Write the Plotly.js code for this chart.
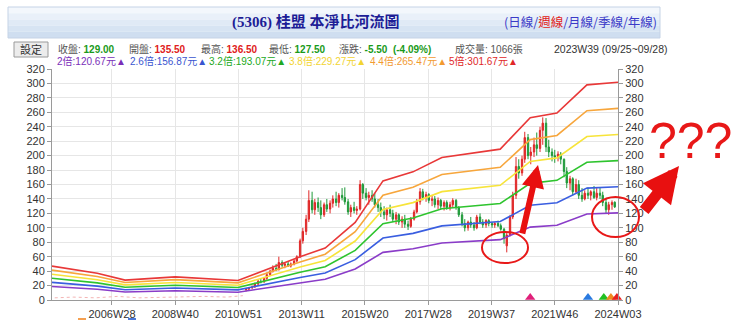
<!DOCTYPE html>
<html><head><meta charset="utf-8">
<script src="https://cdn.plot.ly/plotly-3.0.1.min.js"></script>
<style>html,body{margin:0;padding:0;background:#fff;}#chart{width:740px;height:321px;}</style>
</head><body><div id="chart"></div>
<script>
// ---------- data ----------
const tickWeeks = [110, 226, 342, 458, 574, 690, 806, 922, 1038];
const tickLabels = ["2006W28","2008W40","2010W51","2013W11","2015W20","2017W28","2019W37","2021W46","2024W03"];

// book value per share (read from the 2x / 5x bands), at week-index nodes
const bvWeeks   = [0, 83, 134, 226, 341, 400, 455, 501, 556, 607, 662, 715, 822, 877, 926, 981, 1038];
const bookValue = [9.4, 7.4, 5.5, 6.4, 5.4, 8.9, 12.0, 14.4, 21.5, 33.0, 35.5, 39.5, 41.8, 50.5, 51.8, 59.6, 60.33];
const multiples = [2, 2.6, 3.2, 3.8, 4.4, 5];
const bandNames = ["2倍", "2.6倍", "3.2倍", "3.8倍", "4.4倍", "5倍"];
const bandColors = ["#8a3cc8", "#3a5ee0", "#2ec42e", "#f7e43a", "#f7a63c", "#e83838"];

// weekly candles (sampled)
const weeks = [356,361,367,372,378,383,389,394,400,405,
  411,416,422,427,433,438,444,449,455,460,
  466,471,477,482,488,493,499,504,510,515,
  521,526,532,537,543,548,554,559,565,570,
  576,581,587,592,598,603,609,614,620,625,
  631,636,642,647,653,658,664,669,675,680,
  686,691,697,702,708,713,719,724,730,735,
  741,746,752,757,763,768,774,779,785,790,
  796,801,807,812,818,823,829,834,840,845,
  851,856,862,867,873,878,884,889,895,900,
  906,911,917,922,928,933,939,944,950,955,
  961,966,972,977,983,988,994,999,1005,1010,
  1016,1021,1027,1032];
const open = [14,15,17,18,22,26,25,30,35,40,
  44,42,52,48,50,47,50,54,60,82,
  95,112,138,125,135,128,118,132,126,134,
  140,135,145,142,136,122,128,124,126,160,
  148,142,145,140,132,128,122,118,125,120,
  112,118,108,112,105,102,112,122,136,150,
  142,146,138,140,132,138,130,135,128,132,
  138,128,118,106,100,108,104,100,115,108,
  104,110,106,104,106,103,98,75,90,115,
  145,185,176,195,225,200,205,215,210,235,
  245,212,205,200,198,202,195,178,162,168,
  150,160,145,140,148,145,150,142,148,145,
  135,125,132,135.5];
const high = [16,18,20,24,28,30,32,38,42,48,
  50,60,55,52,54,52,56,62,85,100,
  118,152,150,140,142,138,135,140,138,145,
  150,148,155,156,140,132,136,130,166,162,
  155,150,152,148,140,135,130,128,132,125,
  122,120,116,118,110,115,125,140,155,154,
  150,148,145,144,142,140,138,138,136,141,
  140,130,122,112,110,115,108,118,120,112,
  112,112,108,108,110,106,100,93,118,150,
  198,195,200,233,230,212,225,232,240,253,
  252,222,210,208,206,205,196,184,172,170,
  168,166,155,152,156,152,158,155,156,150,
  140,136,138,136.5];
const low = [12,14,15,17,20,23,24,28,33,38,
  40,41,45,44,46,45,48,52,58,78,
  90,108,120,118,122,112,115,122,120,128,
  130,128,138,132,118,115,120,118,124,140,
  138,132,136,128,122,115,112,110,115,108,
  105,104,100,100,97,100,110,120,132,138,
  136,134,130,128,126,126,124,125,124,128,
  125,115,102,95,96,100,96,98,105,100,
  100,102,100,100,101,96,78,66,88,112,
  140,168,172,190,195,188,198,200,205,215,
  205,198,192,190,192,188,170,155,152,145,
  148,140,136,138,140,138,140,138,140,130,
  120,118,125,127.5];
const close = [15,17,18,22,26,25,30,35,40,44,
  42,52,48,50,47,50,54,60,82,95,
  112,138,125,135,128,118,132,126,134,140,
  135,145,142,136,122,128,124,126,160,148,
  142,145,140,132,128,122,118,125,120,112,
  118,108,112,105,102,112,122,136,150,142,
  146,138,140,132,138,130,135,128,132,138,
  128,118,106,100,108,104,100,115,108,104,
  110,106,104,106,103,98,85,90,115,145,
  185,176,195,225,200,205,215,210,235,245,
  212,205,200,198,202,195,178,162,168,150,
  160,145,140,148,145,150,142,148,145,135,
  125,132,135,129];

// faint line near zero before listing
const earlyWeeks = [5, 40, 80, 120, 160, 200, 240, 280, 320, 350];
const earlyVals  = [3, 4, 3, 5, 3, 4, 4, 5, 4, 6];

// signal triangles along the bottom
const signalWeeks  = [877, 983, 1012, 1025, 1036];
const signalVals   = [3.5, 3.5, 3.5, 3.5, 3.5];
const signalColors = ["#e0207a", "#2a7ae0", "#22c022", "#f08a20", "#e82020"];

// ---------- geometry helpers (pixels -> paper) ----------
const L = 52, R = 618, T = 69, B = 300;
const px = x => (x - L) / (R - L);
const py = y => (B - y) / (B - T);

const traces = [];
multiples.forEach((m, i) => {
  traces.push({
    type: 'scatter', mode: 'lines', x: bvWeeks,
    y: bookValue.map(v => v * m), name: bandNames[i],
    line: {color: bandColors[i], width: 1.6}, hoverinfo: 'skip'
  });
});
traces.push({
  type: 'scatter', mode: 'lines', x: earlyWeeks, y: earlyVals,
  line: {color: '#f4b4b4', width: 1, dash: 'dot'}, hoverinfo: 'skip'
});
traces.push({
  type: 'candlestick', x: weeks, open: open, high: high, low: low, close: close,
  increasing: {line: {color: '#e02828', width: 1}, fillcolor: '#e02828'},
  decreasing: {line: {color: '#1f9a3a', width: 1}, fillcolor: '#1f9a3a'},
  whiskerwidth: 0, hoverinfo: 'skip'
});
traces.push({
  type: 'scatter', mode: 'markers', x: signalWeeks, y: signalVals,
  marker: {symbol: 'triangle-up', size: 9, color: signalColors}, cliponaxis: false, hoverinfo: 'skip'
});
traces.push({type: 'scatter', x: [0], y: [0], yaxis: 'y2', mode: 'markers', marker: {opacity: 0}, hoverinfo: 'skip'});

const FONT = 'Liberation Sans, Arial, Noto Sans CJK TC, sans-serif';
const CJK = 'Noto Sans CJK TC, Liberation Sans, sans-serif';

const shapes = [];
// header gradient bar
const gradCols = ['#f3f7fc', '#e9f0f9', '#e0eaf6', '#d7e4f3', '#cfdef0'];
const hTop = 7, hBot = 38;
gradCols.forEach((c, i) => {
  const y0 = hTop + (hBot - hTop) * i / gradCols.length;
  const y1 = hTop + (hBot - hTop) * (i + 1) / gradCols.length;
  shapes.push({type: 'rect', xref: 'paper', yref: 'paper', x0: px(8), x1: px(660), y0: py(y1), y1: py(y0),
    fillcolor: c, line: {width: 0}, layer: 'below'});
});
shapes.push({type: 'rect', xref: 'paper', yref: 'paper', x0: px(8), x1: px(660), y0: py(hBot), y1: py(hTop),
  line: {color: '#c5d3e6', width: 1}, fillcolor: 'rgba(0,0,0,0)'});
// 設定 button
shapes.push({type: 'rect', xref: 'paper', yref: 'paper', x0: px(14), x1: px(48), y0: py(57), y1: py(42),
  fillcolor: '#ececec', line: {color: '#9a9a9a', width: 1}});
// red ellipses
shapes.push({type: 'circle', xref: 'paper', yref: 'paper', x0: px(482), x1: px(528), y0: py(263), y1: py(232),
  line: {color: '#e81818', width: 2}});
shapes.push({type: 'circle', xref: 'paper', yref: 'paper', x0: px(592), x1: px(639), y0: py(237), y1: py(197),
  line: {color: '#e81818', width: 2}});
// cut-off legend swatches at the bottom
shapes.push({type: 'line', xref: 'paper', yref: 'paper', x0: px(78), x1: px(86), y0: py(319), y1: py(319),
  line: {color: '#f5a050', width: 2}});
shapes.push({type: 'line', xref: 'paper', yref: 'paper', x0: px(128), x1: px(136), y0: py(319), y1: py(319),
  line: {color: '#4a78d8', width: 2}});

const ann = [];
function txt(x, y, text, size, color, family, anchor) {
  ann.push({xref: 'paper', yref: 'paper', x: px(x), y: py(y), text: text, showarrow: false,
    xanchor: anchor || 'left', yanchor: 'middle', font: {size: size, color: color, family: family || FONT}});
}
// title
txt(230, 22, '<b>(5306) 桂盟 本淨比河流圖</b>', 15, '#1d1d96', 'Liberation Serif, Noto Sans CJK TC, serif', 'left');
txt(502, 22, '(日線/<span style="color:#e02020">週線</span>/月線/季線/年線)', 12.5, '#3a3ac8', CJK);
// row 2
txt(31, 49.5, '設定', 11, '#333', CJK, 'center');
const lab = '#555';
const R2 = 10;
txt(56, 49, '收盤: <span style="color:#1a9a1a"><b>129.00</b></span>', R2, lab);
txt(127, 49, '開盤: <span style="color:#e02020"><b>135.50</b></span>', R2, lab);
txt(199, 49, '最高: <span style="color:#e02020"><b>136.50</b></span>', R2, lab);
txt(267, 49, '最低: <span style="color:#1a9a1a"><b>127.50</b></span>', R2, lab);
txt(337, 49, '漲跌: <span style="color:#1a9a1a"><b>-5.50  (-4.09%)</b></span>', R2, lab);
txt(453, 49, '成交量: 1066張', R2, lab);
txt(552, 49, '2023W39 (09/25~09/28)', 10.5, '#333');
// row 3 (band values)
const bandStarts = [55, 128, 207, 287, 368, 447];
const bandText = ['2倍:120.67元▲', '2.6倍:156.87元▲', '3.2倍:193.07元▲', '3.8倍:229.27元▲', '4.4倍:265.47元▲', '5倍:301.67元▲'];
const bandTextCols = ['#7a30b8', '#3a55d0', '#22a822', '#f2d432', '#f29a30', '#e02828'];
bandText.forEach((t, i) => txt(bandStarts[i], 61, t, 10, bandTextCols[i]));
// ??? and arrows
txt(690, 141, '???', 50, '#e81818', 'Liberation Sans, Arial, sans-serif', 'center');
ann.push({xref: 'paper', yref: 'paper', x: px(538), y: py(165), ax: -16, ay: 70, text: '', showarrow: true,
  arrowhead: 2, arrowsize: 0.75, arrowwidth: 6, arrowcolor: '#e81010'});
ann.push({xref: 'paper', yref: 'paper', x: px(679), y: py(166), ax: -36, ay: 46, text: '', showarrow: true,
  arrowhead: 2, arrowsize: 0.65, arrowwidth: 11, arrowcolor: '#e81010'});

const yax = {
  range: [0, 320], dtick: 20, ticks: 'outside', ticklen: 4, tickcolor: '#999',
  showline: true, linecolor: '#9a9a9a', linewidth: 1, gridcolor: '#e6e6e6', zeroline: false,
  tickfont: {size: 11, color: '#333', family: FONT}, fixedrange: true
};
const layout = {
  width: 740, height: 321,
  margin: {l: L, r: 740 - R, t: T, b: 321 - B},
  paper_bgcolor: '#ffffff', plot_bgcolor: '#ffffff',
  showlegend: false, hovermode: false,
  xaxis: {
    range: [0, 1038], tickvals: tickWeeks, ticktext: tickLabels, ticks: 'outside', ticklen: 4,
    tickcolor: '#999', showline: true, linecolor: '#9a9a9a', gridcolor: '#e6e6e6', zeroline: false,
    tickfont: {size: 11, color: '#333', family: FONT}, rangeslider: {visible: false}, fixedrange: true
  },
  yaxis: yax,
  yaxis2: Object.assign({}, yax, {overlaying: 'y', side: 'right', showgrid: false}),
  shapes: shapes, annotations: ann
};
Plotly.newPlot('chart', traces, layout, {staticPlot: true, displayModeBar: false});
</script></body></html>
